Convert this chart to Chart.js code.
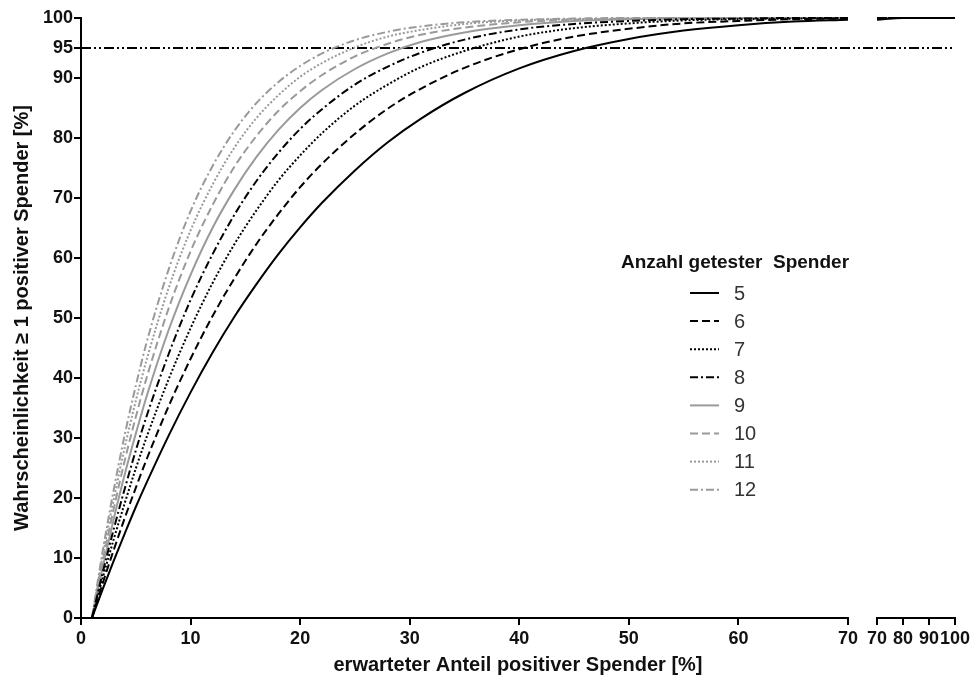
<!DOCTYPE html>
<html>
<head>
<meta charset="utf-8">
<style>
  html, body { margin: 0; padding: 0; background: #fff; }
  #wrap { width: 973px; height: 677px; }
</style>
</head>
<body>
<div id="wrap">
    <canvas id="myChart" width="973" height="677"></canvas>
</div>

<script src="https://cdn.jsdelivr.net/npm/chart.js"></script>

<script>
    // x positions (erwarteter Anteil positiver Spender, %) of the left panel
    const xLeft = [1, 2, 3, 4, 5, 6, 8, 10, 12, 14, 16, 18, 20, 22, 25, 28, 31, 35, 40, 45, 50, 55, 60, 65, 70];
    // x positions of the small right panel (70-100)
    const xRight = [70, 80, 90, 100];

    // Wahrscheinlichkeit >= 1 positiver Spender [%], per Anzahl getester Spender
    const n5  = [0, 4.9, 9.6, 14.1, 18.5, 22.6, 30.4, 37.6, 44.2, 50.2, 55.6, 60.6, 65.1, 69.2, 74.6, 79.3, 83.2, 87.5, 91.6, 94.5, 96.5, 97.9, 98.8, 99.4, 99.7];
    const n6  = [0, 5.9, 11.4, 16.7, 21.7, 26.5, 35.3, 43.2, 50.3, 56.6, 62.3, 67.3, 71.8, 75.7, 80.7, 84.9, 88.2, 91.7, 94.8, 96.9, 98.2, 99.1, 99.5, 99.8, 99.9];
    const n7  = [0, 6.8, 13.2, 19.2, 24.9, 30.2, 39.8, 48.3, 55.8, 62.3, 67.9, 72.9, 77.1, 80.8, 85.4, 88.9, 91.8, 94.5, 96.9, 98.3, 99.1, 99.6, 99.8, 99.9, 100];
    const n8  = [0, 7.7, 14.9, 21.6, 27.9, 33.7, 44.0, 53.0, 60.6, 67.2, 72.8, 77.5, 81.5, 84.8, 88.9, 91.9, 94.2, 96.4, 98.1, 99.0, 99.5, 99.8, 99.9, 100, 100];
    const n9  = [0, 8.6, 16.6, 24.0, 30.7, 37.0, 48.0, 57.2, 65.0, 71.4, 76.8, 81.3, 85.0, 88.0, 91.5, 94.1, 96.0, 97.6, 98.8, 99.5, 99.8, 99.9, 100, 100, 100];
    const n10 = [0, 9.6, 18.3, 26.3, 33.5, 40.1, 51.6, 61.1, 68.8, 75.2, 80.3, 84.5, 87.8, 90.5, 93.6, 95.7, 97.2, 98.4, 99.3, 99.7, 99.9, 100, 100, 100, 100];
    const n11 = [0, 10.5, 19.9, 28.5, 36.2, 43.1, 55.0, 64.6, 72.2, 78.4, 83.3, 87.1, 90.2, 92.5, 95.1, 96.9, 98.0, 99.0, 99.6, 99.8, 99.9, 100, 100, 100, 100];
    const n12 = [0, 11.4, 21.5, 30.6, 38.7, 46.0, 58.1, 67.8, 75.3, 81.2, 85.8, 89.3, 92.0, 94.1, 96.3, 97.7, 98.6, 99.3, 99.7, 99.9, 100, 100, 100, 100, 100];

    // right panel values (70, 80, 90, 100)
    const r5  = [99.7, 100, 100, 100];
    const r6  = [99.9, 100, 100, 100];
    const rRest = [100, 100, 100, 100];

    const labels = ['5', '6', '7', '8', '9', '10', '11', '12'];
    const threshold = 95;

    const xTickValues = [0, 10, 20, 30, 40, 50, 60, 70, 70, 80, 90, 100];
    const yTickValues = [0, 10, 20, 30, 40, 50, 60, 70, 80, 90, 95, 100];

    // broken x axis: 0-70 normal, then a gap, then 70-100 compressed
    const GAP = 2.65;
    const K = 0.2373;
    function mapX(v, right) {
        if (!right) return v;
        return 70 + GAP + (v - 70) * K;
    }
    const X_MAX = mapX(100, true);

    const BLACK = '#000000';
    const GRAY = '#9a9a9a';
    const series = [n5, n6, n7, n8, n9, n10, n11, n12];
    const rights = [r5, r6, rRest, rRest, rRest, rRest, rRest, rRest];
    const colors = [BLACK, BLACK, BLACK, BLACK, GRAY, GRAY, GRAY, GRAY];
    const dashes = [[], [8, 4], [2, 2], [8, 3, 2, 3], [], [8, 4], [2, 2], [8, 3, 2, 3]];

    function buildData(left, right) {
        const pts = left.map((y, i) => ({ x: xLeft[i], y: y }));
        pts.push({ x: 71, y: null });   // break the line across the axis gap
        right.forEach((y, i) => pts.push({ x: mapX(xRight[i], true), y: y }));
        return pts;
    }

    const datasets = series.map((s, i) => ({
        label: labels[i],
        data: buildData(s, rights[i]),
        borderColor: colors[i],
        borderDash: dashes[i],
        borderWidth: 2,
        pointRadius: 0,
        cubicInterpolationMode: 'monotone',
        spanGaps: false,
        clip: 6
    }));
    datasets.push({
        label: '95',
        data: [{ x: 0, y: threshold }, { x: X_MAX, y: threshold }],
        borderColor: BLACK,
        borderDash: [10, 3, 2, 3, 2, 3],
        borderWidth: 2,
        pointRadius: 0,
        clip: 6,
        isRef: true
    });

    const FONT = '"Liberation Sans", Arial, sans-serif';

    // broken x axis line and legend
    const decorPlugin = {
        id: 'decor',
        afterDraw(chart) {
            const ctx = chart.ctx;
            const xs = chart.scales.x;
            const area = chart.chartArea;
            ctx.save();
            ctx.strokeStyle = '#000';
            ctx.lineWidth = 2;
            ctx.beginPath();
            ctx.moveTo(xs.getPixelForValue(0) - 1, area.bottom);
            ctx.lineTo(xs.getPixelForValue(70) + 1, area.bottom);
            ctx.moveTo(xs.getPixelForValue(mapX(70, true)) - 1, area.bottom);
            ctx.lineTo(xs.getPixelForValue(mapX(100, true)) + 1, area.bottom);
            ctx.stroke();

            // legend
            ctx.fillStyle = '#111';
            ctx.textAlign = 'center';
            ctx.textBaseline = 'middle';
            ctx.font = 'bold 19px ' + FONT;
            ctx.fillText('Anzahl getester  Spender', 735, 263);
            ctx.textAlign = 'left';
            ctx.font = '20px ' + FONT;
            chart.data.datasets.forEach((ds, i) => {
                if (ds.isRef) return;
                const y = 293 + i * 28.1;
                ctx.strokeStyle = ds.borderColor;
                ctx.lineWidth = 2;
                ctx.setLineDash(ds.borderDash);
                ctx.beginPath();
                ctx.moveTo(690, y);
                ctx.lineTo(719, y);
                ctx.stroke();
                ctx.setLineDash([]);
                ctx.fillStyle = '#333';
                ctx.fillText(ds.label, 734, y + 1);
            });
            ctx.restore();
        }
    };

    new Chart(document.getElementById('myChart'), {
        type: 'line',
        data: { datasets: datasets },
        plugins: [decorPlugin],
        options: {
            responsive: false,
            animation: false,
            layout: { padding: { top: 18, right: 17, left: 0, bottom: 0 } },
            plugins: {
                legend: { display: false },
                tooltip: { enabled: false }
            },
            scales: {
                x: {
                    type: 'linear',
                    min: 0,
                    max: X_MAX,
                    afterBuildTicks: (scale) => {
                        scale.ticks = xTickValues.map((v, i) => ({ value: mapX(v, i > 7) }));
                    },
                    afterFit: (scale) => { scale.height = 59; },
                    ticks: {
                        autoSkip: false,
                        maxRotation: 0,
                        padding: 3,
                        color: '#111',
                        font: { family: FONT, size: 18, weight: 'bold' },
                        callback: (v, i) => String(xTickValues[i])
                    },
                    grid: {
                        drawOnChartArea: false,
                        drawTicks: true,
                        tickLength: 7,
                        color: '#000',
                        lineWidth: 2
                    },
                    border: { display: false },
                    title: {
                        display: true,
                        text: 'erwarteter Anteil positiver Spender [%]',
                        color: '#111',
                        padding: { top: 1, bottom: 0 },
                        font: { family: FONT, size: 20, weight: 'bold' }
                    }
                },
                y: {
                    min: 0,
                    max: 100,
                    afterBuildTicks: (scale) => {
                        scale.ticks = yTickValues.map(v => ({ value: v }));
                    },
                    afterFit: (scale) => { scale.width = 81; },
                    ticks: {
                        autoSkip: false,
                        padding: 1,
                        color: '#111',
                        font: { family: FONT, size: 18, weight: 'bold' }
                    },
                    grid: {
                        drawOnChartArea: false,
                        drawTicks: true,
                        tickLength: 7,
                        color: '#000',
                        lineWidth: 2
                    },
                    border: { display: true, color: '#000', width: 2 },
                    title: {
                        display: true,
                        text: 'Wahrscheinlichkeit \u2265 1 positiver Spender [%]',
                        color: '#111',
                        padding: { top: 10, bottom: 0 },
                        font: { family: FONT, size: 20, weight: 'bold' }
                    }
                }
            }
        }
    });
</script>
</body>
</html>
